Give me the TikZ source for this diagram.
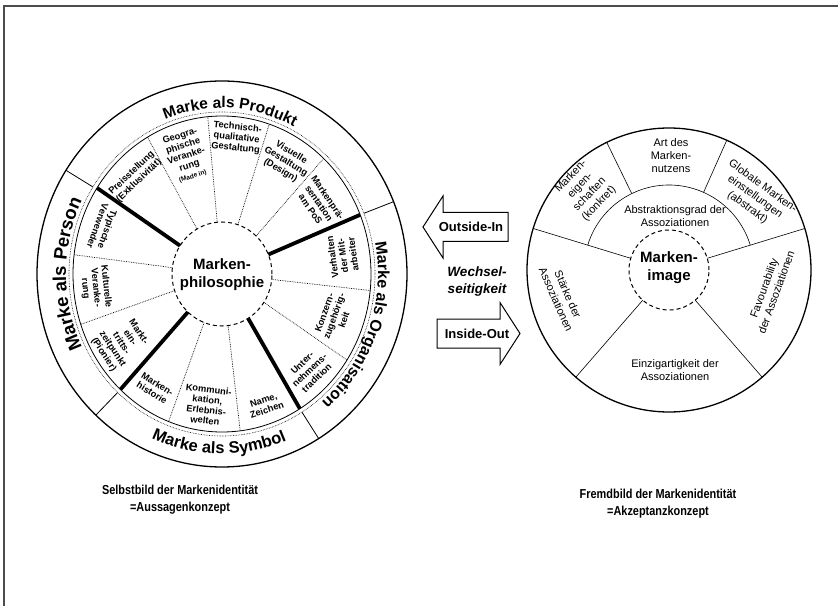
\documentclass[tikz,border=0pt]{standalone}
\usepackage{fontspec}
\setmainfont{Liberation Sans}
\usetikzlibrary{decorations.text}
\begin{document}
\begin{tikzpicture}[x=1pt,y=1pt,
  outerline/.style={line width=1.3pt},
  ringline/.style={line width=0.8pt},
  spoke/.style={line width=0.6pt},
  fine/.style={line width=0.7pt, densely dotted},
  divider/.style={line width=3.8pt},
  hub/.style={line width=1pt, dash pattern=on 4pt off 3pt},
  seg/.style={font=\fontsize{9.3}{10.4}\selectfont\bfseries, align=center, inner sep=0pt},
  rseg/.style={font=\fontsize{11}{13}\selectfont, align=center, inner sep=0pt},
  hubtext/.style={font=\fontsize{15}{18}\selectfont\bfseries, align=center, inner sep=0pt},
  caption/.style={font=\fontsize{13}{17}\selectfont\bfseries, align=center, inner sep=0pt, xscale=0.84},
  arrowbox/.style={draw, line width=1pt, fill=white, line join=miter},
  arrowtext/.style={font=\fontsize{13}{13}\selectfont\bfseries, inner sep=0pt},
  ringtext/.style 2 args={decorate, decoration={text along path, text align=center,
      text={|\fontsize{#1}{#1}\selectfont\bfseries|#2}}}
]
\useasboundingbox (0,0) rectangle (838,606);

% page frame (top and left edge)
\draw[line width=1.3pt, black!70] (4,0) -- (4,600) -- (838,600);

% ---------------- brand identity wheel ----------------
\begin{scope}[shift={(222,332)}]
  \coordinate (L) at (0,0);
  \draw[outerline] (L) ellipse [x radius=185pt, y radius=193pt];
  \draw[ringline] (L) ellipse [x radius=149pt, y radius=158pt];
  \draw[spoke, densely dotted] (L) ellipse [x radius=153pt, y radius=162pt];
  \draw[hub] (L) ellipse [x radius=50pt, y radius=52pt];

  % boundaries of the outer ring
  \foreach \a in {22,147.5,227,301.5}
    \draw[ringline] (\a:153pt and 162pt) -- (\a:185pt and 193pt);

  % thick dividers between the four groups
  \foreach \a in {22,147,227,301.5}
    \draw[divider] (\a:50pt and 52pt) -- (\a:149pt and 158pt);

  % thin spokes inside each group
  \foreach \a in {47,71.5,95.5,120,173,198.6,249,277,327,354}
    \draw[fine] (\a:50pt and 52pt) -- (\a:149pt and 158pt);

  \node[hubtext] (phil) at (0,-1) {Marken-\\philosophie};

  % Marke als Produkt
  \node[seg, rotate=-55.5] (pos)  at (34.5:118pt and 125pt) {Markenprä-\\sentation\\am PoS};
  \node[seg, rotate=-31]   (vis)  at (59:124pt and 131pt) {Visuelle\\Gestaltung\\(Design)};
  \node[seg, rotate=-6]    (tech) at (83.5:129pt and 137pt) {Technisch-\\qualitative\\Gestaltung};
  \node[seg, rotate=17.75] (geo)  at (107.75:117pt and 124pt) {Geogra-\\phische\\Veranke-\\rung\\{\fontsize{6.5}{7}\selectfont (Made in)}};
  \node[seg, rotate=43.5]  (preis) at (133.5:126pt and 134pt) {Preisstellung\\(Exklusivität)};
  % Marke als Person
  \node[seg, rotate=-110]  (typ)  at (160:127pt and 135pt) {Typische\\Verwender};
  \node[seg, rotate=-84]   (kult) at (185.8:127pt and 135pt) {Kulturelle\\Veranke-\\rung};
  \node[seg, rotate=-57]   (markt) at (212.8:120pt and 128pt) {Markt-\\ein-\\tritts-\\zeitpunkt\\(Pionier)};
  % Marke als Symbol
  \node[seg, rotate=-32]   (hist) at (238:127pt and 135pt) {Marken-\\historie};
  \node[seg, rotate=-7]    (komm) at (263:124pt and 132pt) {Kommuni-\\kation,\\Erlebnis-\\welten};
  \node[seg, rotate=19]    (name) at (289.25:131pt and 139pt) {Name,\\Zeichen};
  % Marke als Organisation
  \node[seg, rotate=44]    (trad) at (314:126pt and 134pt) {Unter-\\nehmens-\\tradition};
  \node[seg, rotate=70.5]  (konz) at (340.5:119pt and 127pt) {Konzern-\\zugehörig-\\keit};
  \node[seg, rotate=98]    (verh) at (8:122pt and 130pt) {Verhalten\\der Mit-\\arbeiter};

  % ring captions
  \path[ringtext={15.5}{Marke als Produkt}]
    (137:156pt and 166pt) arc[start angle=137, end angle=37, x radius=156pt, y radius=166pt];
  \path[ringtext={18.5}{Marke als Person}]
    (235:156pt and 166pt) arc[start angle=235, end angle=125, x radius=156pt, y radius=166pt];
  \path[ringtext={16}{Marke als Organisation}]
    (30:156pt and 166pt) arc[start angle=30, end angle=-70, x radius=156pt, y radius=166pt];
  \path[ringtext={16.5}{Marke als Symbol}]
    (219:172pt and 180pt) arc[start angle=219, end angle=319, x radius=172pt, y radius=180pt];
\end{scope}

% ---------------- brand image wheel ----------------
\begin{scope}[shift={(669,336)}]
  \coordinate (R) at (0,0);
  \draw[outerline] (R) circle [radius=142pt];
  \draw[hub] (R) circle [radius=40pt];
  \foreach \a in {17,163,229,311}
    \draw[spoke] (\a:40pt) -- (\a:142pt);
  \draw[spoke] (163:85pt) arc[start angle=163, end angle=17, radius=85pt];
  \foreach \a in {66,116}
    \draw[spoke] (\a:85pt) -- (\a:142pt);

  \node[hubtext] (img) at (0,2) {Marken-\\image};
  \node[rseg] (nutzen) at (2,114) {Art des\\Marken-\\nutzens};
  \node[rseg] (abstr) at (6,54) {Abstraktionsgrad der\\Assoziationen};
  \node[rseg, rotate=46] (eigen) at (-84,80) {Marken-\\eigen-\\schaften\\(konkret)};
  \node[rseg, rotate=-36] (global) at (86,73) {Globale Marken-\\einstellungen\\(abstrakt)};
  \node[rseg, rotate=-66] (staerke) at (-107,-27) {Stärke der\\Assoziationen};
  \node[rseg, rotate=70] (fav) at (101,-20) {Favourability\\der Assoziationen};
  \node[rseg] (einz) at (6,-100) {Einzigartigkeit der\\Assoziationen};
\end{scope}

% ---------------- arrows between the two views ----------------
\draw[arrowbox] (508,393.5) -- (443,393.5) -- (443,410) -- (423,379) -- (443,348) -- (443,364.5) -- (508,364.5) -- cycle;
\node[arrowtext] (outin) at (471,379) {Outside-In};
\draw[arrowbox] (437,287) -- (500,287) -- (500,303.5) -- (520,272.5) -- (500,241.5) -- (500,258) -- (437,258) -- cycle;
\node[arrowtext] (inout) at (477,272.5) {Inside-Out};
\node[font=\fontsize{13.5}{17}\selectfont\bfseries\itshape, align=center, inner sep=0pt] (wechsel) at (477,324) {Wechsel-\\seitigkeit};

% ---------------- captions ----------------
\node[caption] (selbst) at (180,106.5) {Selbstbild der Markenidentität\\=Aussagenkonzept};
\node[caption] (fremd) at (658,102.5) {Fremdbild der Markenidentität\\=Akzeptanzkonzept};
\end{tikzpicture}
\end{document}
